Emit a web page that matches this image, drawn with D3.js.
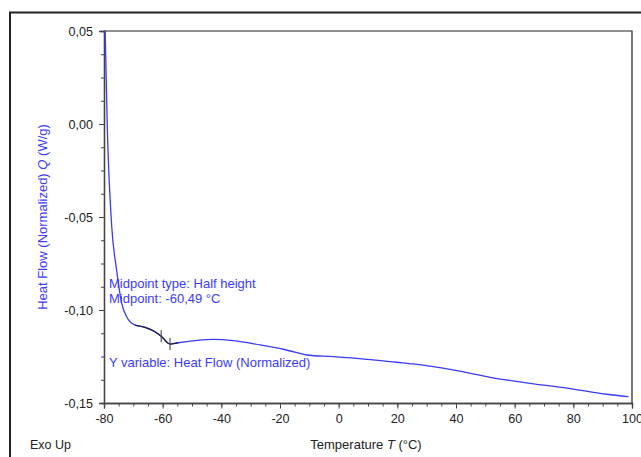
<!DOCTYPE html>
<html>
<head>
<meta charset="utf-8">
<script src="https://cdn.jsdelivr.net/npm/d3@7"></script>
<style>
  html, body { margin: 0; padding: 0; background: #fff; }
  svg { display: block; }
  text { font-family: "Liberation Sans", Arial, sans-serif; }
</style>
</head>
<body>
<svg id="chart" width="641" height="457"></svg>
<script>
// ---- data ----
const temperature = [-79.8, -79.6, -78.9, -77.4, -75.7, -74.0, -72.3, -69.4, -66.0, -62.6, -60.3, -57.5, -54.7, -49.0, -42.7, -35.9, -26.8, -18.9, -13.2, -10.9, -1.8, 9.6, 19.8, 25.5, 40.3, 51.6, 65.2, 80.0, 91.4, 98.8];
const heatFlow    = [0.06, 0.05, -0.0005, -0.0543, -0.0785, -0.0962, -0.1036, -0.1081, -0.1093, -0.1117, -0.1144, -0.1183, -0.1176, -0.1165, -0.1158, -0.1165, -0.1188, -0.1211, -0.1233, -0.1242, -0.1251, -0.1265, -0.1281, -0.1290, -0.1326, -0.1362, -0.1394, -0.1425, -0.1453, -0.1466];
const transitionRange = [-70, -54];          // highlighted (dark) part of the curve
const transitionMarks = [-60.49, -57.5];      // vertical marker ticks
const xTicks = [-80, -60, -40, -20, 0, 20, 40, 60, 80, 100];
const yTicks = [0.05, 0.00, -0.05, -0.10, -0.15];
const annotations = ["Midpoint type: Half height", "Midpoint: -60,49 °C"];
const yVariableText = "Y variable: Heat Flow (Normalized)";

const svg = d3.select("#chart");
const L = 104, R = 632, T = 31, B = 403;
const x = d3.scaleLinear().domain([-80, 100]).range([L, R]);
const y = d3.scaleLinear().domain([-0.15, 0.05]).range([B, T]);
const fmt = d => d3.format(".2f")(d).replace(".", ",").replace("−", "-");
const fmtX = d => String(d);

// outer frame
svg.append("rect").attr("x", 10).attr("y", 12.5).attr("width", 700).attr("height", 500)
  .attr("fill", "none").attr("stroke", "#222").attr("stroke-width", 2);

// plot frame (top and right)
svg.append("path").attr("d", `M${L},${T}H${R}V${B}`).attr("fill", "none")
  .attr("stroke", "#222").attr("stroke-width", 1.2);

// axes
const axisColor = "#444";
function styleAxis(g) {
  g.select(".domain").attr("stroke", axisColor).attr("stroke-width", 1.3);
  g.selectAll(".tick line").attr("stroke", axisColor).attr("stroke-width", 1);
  g.selectAll("text").attr("fill", "#222").style("font-size", "12.6px")
    .style("font-family", '"Liberation Sans", Arial, sans-serif');
}
const yMinor = d3.range(-0.15, 0.0501, 0.0125);
svg.append("g").attr("transform", `translate(${L},0)`)
  .call(d3.axisLeft(y).tickValues(yMinor).tickSize(3).tickFormat(""))
  .call(styleAxis);
svg.append("g").attr("transform", `translate(${L},0)`)
  .call(d3.axisLeft(y).tickValues(yTicks).tickSize(5).tickPadding(6).tickFormat(fmt))
  .call(styleAxis);

const xMinor = d3.range(-80, 100.1, 5);
svg.append("g").attr("transform", `translate(0,${B})`)
  .call(d3.axisBottom(x).tickValues(xMinor).tickSize(3.5).tickFormat(""))
  .call(styleAxis);
svg.append("g").attr("transform", `translate(0,${B})`)
  .call(d3.axisBottom(x).tickValues(xTicks).tickSize(5.5).tickPadding(6).tickFormat(fmtX))
  .call(styleAxis);

// clip
svg.append("clipPath").attr("id", "clip").append("rect")
  .attr("x", L).attr("y", T).attr("width", R - L).attr("height", B - T);

const pts = temperature.map((t, i) => [t, heatFlow[i]]);
const line = d3.line().x(d => x(d[0])).y(d => y(d[1])).curve(d3.curveMonotoneX);

const plot = svg.append("g").attr("clip-path", "url(#clip)");
plot.append("path").attr("d", line(pts)).attr("fill", "none")
  .attr("stroke", "#3a3af8").attr("stroke-width", 1.3);

const seg = pts.filter(d => d[0] >= transitionRange[0] && d[0] <= transitionRange[1]);
plot.append("path").attr("d", line(seg)).attr("fill", "none")
  .attr("stroke", "#1c1c48").attr("stroke-width", 1.3);

// markers
const interp = t => {
  const i = d3.bisector(d => d[0]).left(pts, t);
  const a = pts[i - 1], b = pts[i];
  return a[1] + (b[1] - a[1]) * (t - a[0]) / (b[0] - a[0]);
};
transitionMarks.forEach(t => {
  const cx = x(t), cy = y(interp(t));
  svg.append("line").attr("x1", cx).attr("x2", cx).attr("y1", cy - 6).attr("y2", cy + 6)
    .attr("stroke", "#555").attr("stroke-width", 1.2);
});

// annotations
const blue = "#3b3bff";
annotations.forEach((s, i) => {
  svg.append("text").attr("x", 109).attr("y", 288 + i * 15).attr("fill", blue)
    .style("font-size", "13px").text(s);
});
svg.append("text").attr("x", 109).attr("y", 367).attr("fill", blue)
  .style("font-size", "13px").text(yVariableText);

// axis titles
const yt = svg.append("text").attr("transform", `translate(46.5,${(T + B) / 2}) rotate(-90)`)
  .attr("text-anchor", "middle").attr("fill", blue).style("font-size", "13px");
yt.append("tspan").text("Heat Flow (Normalized)  ");
yt.append("tspan").style("font-style", "italic").text("Q");
yt.append("tspan").text("  (W/g)");

const xt = svg.append("text").attr("x", (L + R) / 2 - 2).attr("y", 449)
  .attr("text-anchor", "middle").attr("fill", "#222").style("font-size", "13px");
xt.append("tspan").text("Temperature  ");
xt.append("tspan").style("font-style", "italic").text("T");
xt.append("tspan").text("  (°C)");

svg.append("text").attr("x", 30).attr("y", 449).attr("fill", "#222")
  .style("font-size", "12.5px").text("Exo Up");
</script>
</body>
</html>
